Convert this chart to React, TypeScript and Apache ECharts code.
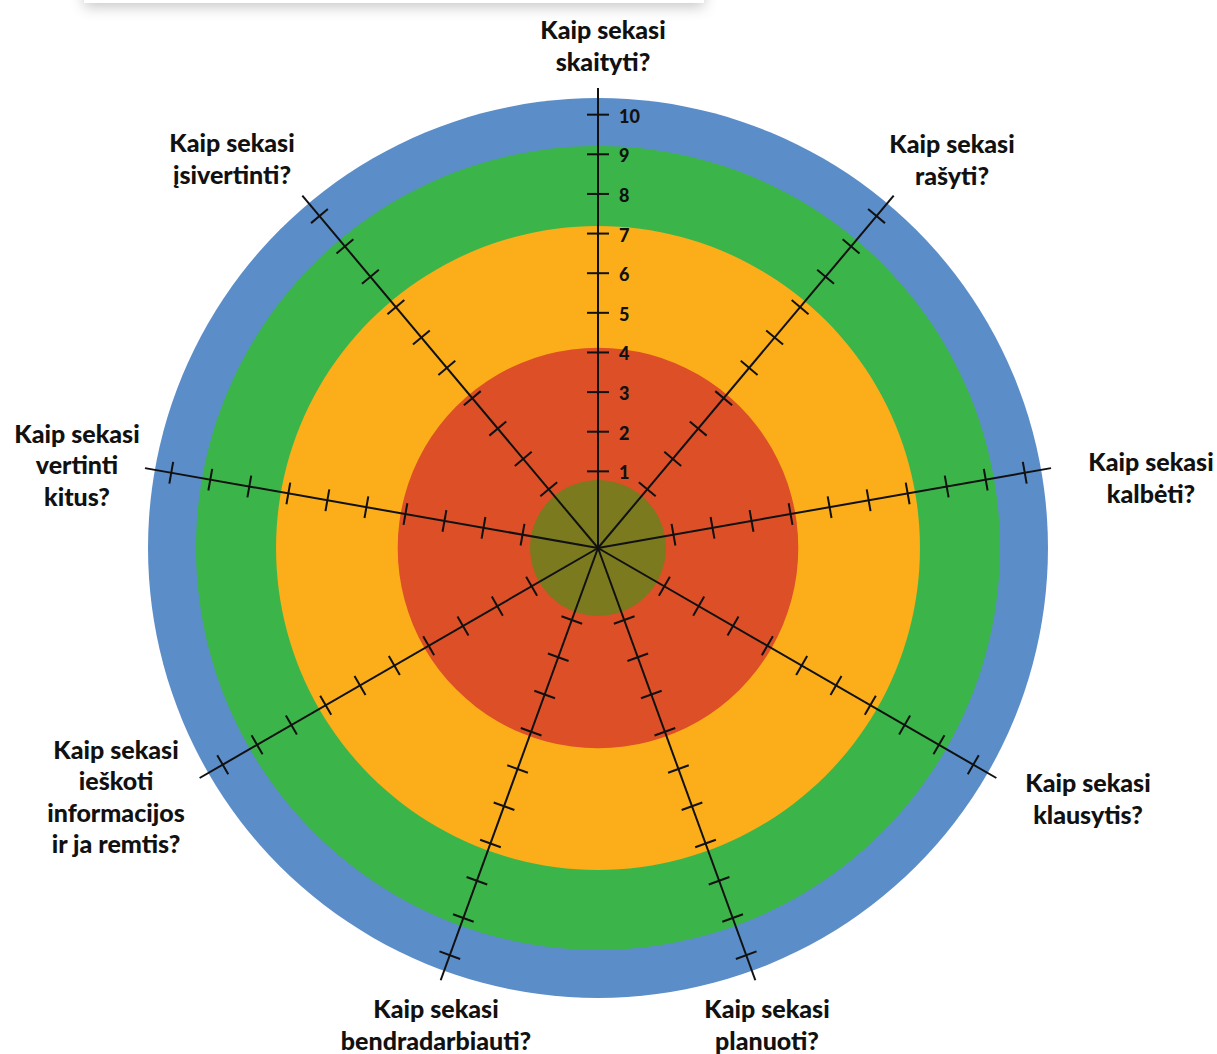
import React, { useEffect, useRef } from "react";
import * as echarts from "echarts";

// Radial scale: value at centre and at the end of each axis line
const R_MIN = -0.934;
const R_MAX = 10.673;

// Axis categories (clockwise from the top), 40° apart
const AXIS_NAMES = [
  "Kaip sekasi\nskaityti?",
  "Kaip sekasi\nrašyti?",
  "Kaip sekasi\nkalbėti?",
  "Kaip sekasi\nklausytis?",
  "Kaip sekasi\nplanuoti?",
  "Kaip sekasi\nbendradarbiauti?",
  "Kaip sekasi\nieškoti\ninformacijos\nir ja remtis?",
  "Kaip sekasi\nvertinti\nkitus?",
  "Kaip sekasi\nįsivertinti?",
];
const AXIS_ANGLES = [0, 40, 80, 120, 160, 200, 240, 280, 320];

// Tick values along each axis; labels only on the first axis
const TICK_VALUES = [1, 2, 3, 4, 5, 6, 7, 8, 9, 10];
const TICK_LABELS = ["1", "2", "3", "4", "5", "6", "7", "8", "9", "10"];

// Concentric colour bands (outer radius in axis units)
const RING_OUTER = [10.42, 9.21, 7.19, 4.12, 0.78];
const RING_COLORS = ["#5B8DC9", "#3BB54A", "#FBAE19", "#DD4F27", "#7B7A1F"];

// Label anchor points (layout only)
const LABEL_POS: [number, number][] = [
  [603, 45],
  [952, 159],
  [1151, 477],
  [1088, 798],
  [767, 1024],
  [436, 1024],
  [116, 796],
  [77, 464],
  [232, 158],
];

export default function App() {
  const ref = useRef<HTMLDivElement>(null);

  useEffect(() => {
    if (!ref.current) return;
    const chart = echarts.init(ref.current, null, { renderer: "svg" });

    const ringSeries = {
      type: "custom",
      coordinateSystem: "polar",
      clip: false,
      silent: true,
      data: RING_OUTER.map((v) => [v, 0]),
      renderItem: (params: any, api: any) => {
        const c = api.coord([R_MIN, 0]);
        const p = api.coord([api.value(0), 0]);
        const r = Math.hypot(p[0] - c[0], p[1] - c[1]);
        return {
          type: "circle",
          shape: { cx: c[0], cy: c[1], r },
          style: { fill: RING_COLORS[params.dataIndex] },
        };
      },
      z: 1,
    };

    const axisSeries = {
      type: "custom",
      coordinateSystem: "polar",
      clip: false,
      silent: true,
      data: AXIS_ANGLES.map((a) => [R_MAX, a]),
      renderItem: (params: any, api: any) => {
        const ang = api.value(1);
        const c = api.coord([R_MIN, ang]);
        const e = api.coord([api.value(0), ang]);
        const len = Math.hypot(e[0] - c[0], e[1] - c[1]);
        const ux = (e[0] - c[0]) / len;
        const uy = (e[1] - c[1]) / len;
        const nx = -uy;
        const ny = ux;
        const half = 11;
        const children: any[] = [
          {
            type: "line",
            shape: { x1: c[0], y1: c[1], x2: e[0], y2: e[1] },
            style: { stroke: "#111", lineWidth: 2 },
          },
        ];
        TICK_VALUES.forEach((v, i) => {
          const p = api.coord([v, ang]);
          children.push({
            type: "line",
            shape: {
              x1: p[0] - nx * half,
              y1: p[1] - ny * half,
              x2: p[0] + nx * half,
              y2: p[1] + ny * half,
            },
            style: { stroke: "#111", lineWidth: 2 },
          });
          if (params.dataIndex === 0) {
            children.push({
              type: "text",
              x: p[0] + 21,
              y: p[1] + 1,
              style: {
                text: TICK_LABELS[i],
                fill: "#111",
                font: "900 18px Lato, 'Open Sans', sans-serif",
                align: "left",
                verticalAlign: "middle",
              },
            });
          }
        });
        return { type: "group", children };
      },
      z: 2,
    };

    const labelGraphics = AXIS_NAMES.map((name, i) => ({
      type: "text",
      x: LABEL_POS[i][0],
      y: LABEL_POS[i][1],
      style: {
        text: name,
        fill: "#111",
        font: "900 25px Lato, 'Open Sans', sans-serif",
        lineHeight: 31.5,
        align: "center",
        verticalAlign: "middle",
      },
      z: 10,
    }));

    chart.setOption({
      animation: false,
      backgroundColor: "#ffffff",
      polar: { center: [598, 548], radius: 460 },
      radiusAxis: {
        type: "value",
        min: R_MIN,
        max: R_MAX,
        axisLine: { show: false },
        axisTick: { show: false },
        axisLabel: { show: false },
        splitLine: { show: false },
      },
      angleAxis: {
        type: "value",
        min: 0,
        max: 360,
        startAngle: 90,
        clockwise: true,
        axisLine: { show: false },
        axisTick: { show: false },
        axisLabel: { show: false },
        splitLine: { show: false },
      },
      graphic: [
        {
          type: "rect",
          shape: { x: 84, y: -40, width: 620, height: 43 },
          style: {
            fill: "#ffffff",
            shadowBlur: 14,
            shadowOffsetY: 4,
            shadowColor: "rgba(0,0,0,0.22)",
          },
          z: 0,
        },
        ...labelGraphics,
      ],
      series: [ringSeries, axisSeries],
    });

    return () => chart.dispose();
  }, []);

  return (
    <div
      ref={ref}
      style={{ position: "absolute", left: 0, top: 0, width: 1217, height: 1054 }}
    />
  );
}
